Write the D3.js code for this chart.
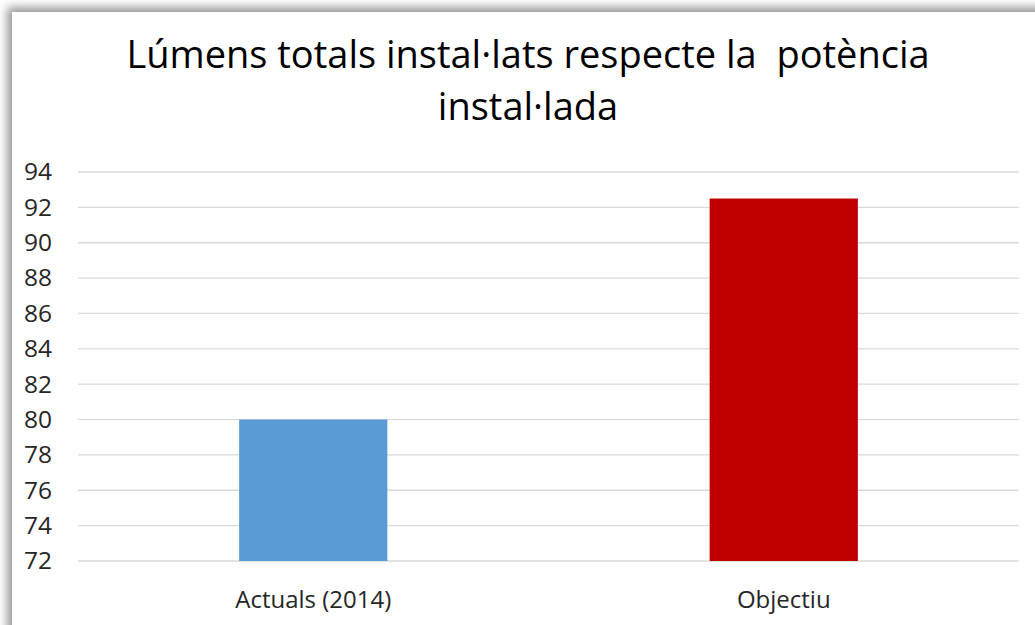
<!DOCTYPE html>
<html>
<head>
<meta charset="utf-8">
<script src="https://cdn.jsdelivr.net/npm/d3@7"></script>
<style>
  body { margin: 0; background: #fff; }
  text { font-family: 'Open Sans', sans-serif; fill: #262626; }
</style>
</head>
<body>
<div id="chart-area"></div>
<script>
const categories = ['Actuals (2014)', 'Objectiu'];
const values = [80, 92.5];
const colors = ['#5B9BD5', '#C00000'];
const yTicks = [72, 74, 76, 78, 80, 82, 84, 86, 88, 90, 92, 94];
const titleLines = ['Lúmens totals instal·lats respecte la  potència', 'instal·lada'];

const W = 1035, H = 625;
const plot = {left: 78, right: 1019, top: 172, bottom: 561};

const svg = d3.select('#chart-area')
  .append('svg')
  .attr('width', W)
  .attr('height', H);

// shadow frame
const defs = svg.append('defs');
defs.append('filter')
  .attr('id', 'blur')
  .attr('x', '-5%').attr('y', '-5%').attr('width', '110%').attr('height', '110%')
  .append('feGaussianBlur')
  .attr('stdDeviation', 5);

svg.append('rect')
  .attr('x', 7).attr('y', 7)
  .attr('width', W + 20).attr('height', H + 20)
  .attr('fill', '#9a9a9a')
  .attr('filter', 'url(#blur)');

svg.append('rect')
  .attr('x', 12).attr('y', 12)
  .attr('width', W).attr('height', H)
  .attr('fill', '#fff');

// scales
const x = d3.scaleBand()
  .domain(categories)
  .range([plot.left, plot.right])
  .paddingInner(0.685)
  .paddingOuter(0.685 / 2);

const y = d3.scaleLinear()
  .domain([72, 94])
  .range([plot.bottom, plot.top]);

// gridlines
svg.append('g')
  .selectAll('line')
  .data(yTicks)
  .join('line')
  .attr('x1', plot.left)
  .attr('x2', plot.right)
  .attr('y1', d => y(d))
  .attr('y2', d => y(d))
  .attr('stroke', '#d9d9d9')
  .attr('stroke-width', 1.3);

// y axis
const yAxis = svg.append('g')
  .attr('transform', `translate(${plot.left}, 0)`)
  .call(d3.axisLeft(y).tickValues(yTicks).tickSize(0).tickPadding(26));
yAxis.select('.domain').remove();
yAxis.selectAll('text')
  .attr('font-size', '24.5px')
  .attr('font-family', "'Open Sans', sans-serif")
  .attr('fill', '#404040');

// bars
svg.append('g')
  .selectAll('rect')
  .data(values)
  .join('rect')
  .attr('x', (d, i) => x(categories[i]))
  .attr('width', x.bandwidth())
  .attr('y', d => y(d))
  .attr('height', d => y(72) - y(d))
  .attr('fill', (d, i) => colors[i]);

// x axis
const xAxis = svg.append('g')
  .attr('transform', `translate(0, ${plot.bottom})`)
  .call(d3.axisBottom(x).tickSize(0).tickPadding(30));
xAxis.select('.domain').remove();
xAxis.selectAll('text')
  .attr('font-size', '24px')
  .attr('font-family', "'Open Sans', sans-serif")
  .attr('fill', '#262626');

// title
svg.append('g')
  .selectAll('text')
  .data(titleLines)
  .join('text')
  .attr('x', 528)
  .attr('y', (d, i) => 68 + i * 52)
  .attr('text-anchor', 'middle')
  .attr('font-size', '38px')
  .attr('fill', '#000')
  .style('fill', '#000')
  .style('white-space', 'pre')
  .text(d => d);
</script>
</body>
</html>
